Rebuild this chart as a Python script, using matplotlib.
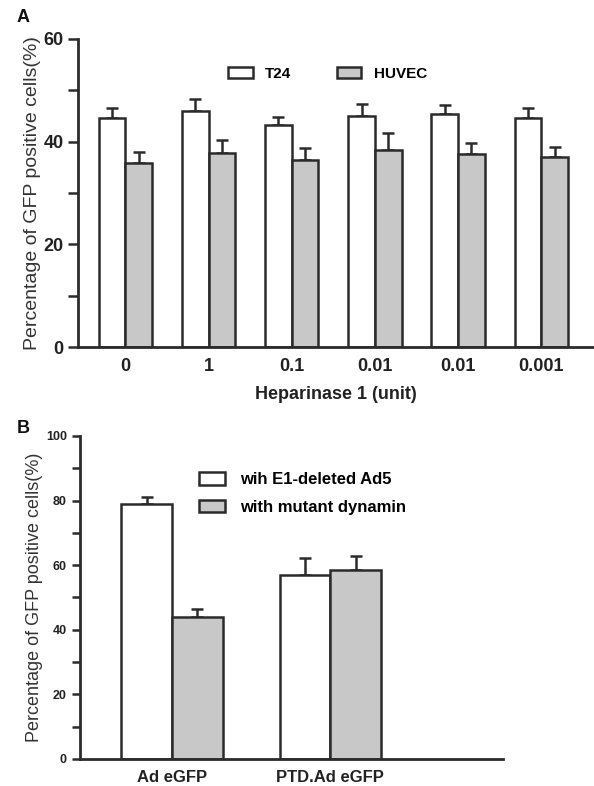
import numpy as np
import matplotlib
matplotlib.use('Agg')
import matplotlib.pyplot as plt
from matplotlib.ticker import MultipleLocator

plt.rcParams['font.family'] = ['Liberation Sans', 'DejaVu Sans']

# panel A data
doses = ['0', '1', '0.1', '0.01', '0.01', '0.001']
t24 = [44.6, 46.0, 43.3, 45.0, 45.4, 44.6]
t24_err = [1.9, 2.3, 1.5, 2.4, 1.8, 1.9]
huvec = [35.8, 37.8, 36.5, 38.4, 37.6, 37.0]
huvec_err = [2.2, 2.5, 2.3, 3.3, 2.2, 2.0]

# panel B data
vectors = ['Ad eGFP', 'PTD.Ad eGFP']
e1_deleted = [79.0, 57.0]
e1_err = [2.1, 5.2]
mutant = [44.0, 58.5]
mutant_err = [2.4, 4.3]

EDGE = '#2b2b2b'
GRAY = '#c8c8c8'
TXT = '#222222'
w = 0.32


def style_axes(ax):
    for s in ['top', 'right']:
        ax.spines[s].set_visible(False)
    for s in ['left', 'bottom']:
        ax.spines[s].set_linewidth(2.0)
        ax.spines[s].set_color(EDGE)
    ax.tick_params(axis='y', which='major', length=7, width=1.8, color=EDGE)
    ax.tick_params(axis='y', which='minor', length=7, width=1.8, color=EDGE)
    ax.tick_params(axis='x', length=0, pad=8)


def bars(ax, x, vals, errs, color, label):
    ax.bar(x, vals, w, color=color, edgecolor=EDGE, linewidth=1.8, label=label, zorder=2)
    ax.errorbar(x, vals, yerr=[np.zeros(len(vals)), errs], fmt='none',
                ecolor=EDGE, elinewidth=1.8, capsize=4, capthick=1.8, zorder=1)


fig = plt.figure(figsize=(5.94, 7.86), dpi=100)

# ---- panel A
axA = fig.add_axes([0.1313, 0.5585, 0.8667, 0.392])
xa = np.arange(len(doses))
bars(axA, xa - w / 2, t24, t24_err, 'white', 'T24')
bars(axA, xa + w / 2, huvec, huvec_err, GRAY, 'HUVEC')
axA.set_xlim(-0.57, 5.62)
axA.set_ylim(0, 60)
axA.yaxis.set_major_locator(MultipleLocator(20))
axA.yaxis.set_minor_locator(MultipleLocator(10))
style_axes(axA)
axA.set_xticks(xa)
axA.set_xticklabels(doses, fontsize=13, fontweight='bold', color=TXT)
for lab in axA.get_yticklabels():
    lab.set_fontsize(13)
    lab.set_fontweight('bold')
    lab.set_color(TXT)
axA.set_ylabel('Percentage of GFP positive cells(%)', fontsize=14, color='#333333', labelpad=2)
axA.set_xlabel('Heparinase 1 (unit)', fontsize=13, fontweight='bold', color=TXT, labelpad=8)
axA.legend(loc='upper left', bbox_to_anchor=(0.265, 0.955), ncol=2, frameon=False,
           handlelength=1.6, handleheight=0.8, columnspacing=3.0, handletextpad=0.8,
           prop={'weight': 'bold', 'size': 11})
fig.text(0.028, 0.978, 'A', fontsize=13, fontweight='bold', color='#111111', va='center')

# ---- panel B
axB = fig.add_axes([0.1347, 0.0344, 0.712, 0.411])
xb = np.arange(len(vectors))
bars(axB, xb - w / 2, e1_deleted, e1_err, 'white', 'wih E1-deleted Ad5')
bars(axB, xb + w / 2, mutant, mutant_err, GRAY, 'with mutant dynamin')
axB.set_xlim(-0.58, 2.09)
axB.set_ylim(0, 100)
axB.yaxis.set_major_locator(MultipleLocator(20))
axB.yaxis.set_minor_locator(MultipleLocator(10))
style_axes(axB)
axB.tick_params(axis='y', which='both', length=6, width=1.8)
axB.set_xticks(xb)
axB.set_xticklabels(vectors, fontsize=12, fontweight='bold', color=TXT)
for lab in axB.get_yticklabels():
    lab.set_fontsize(9)
    lab.set_fontweight('bold')
    lab.set_color(TXT)
axB.set_ylabel('Percentage of GFP positive cells(%)', fontsize=13, color='#333333', labelpad=2)
axB.legend(loc='upper left', bbox_to_anchor=(0.245, 0.935), ncol=1, frameon=False,
           handlelength=1.6, handleheight=0.8, handletextpad=0.9, labelspacing=0.75,
           prop={'weight': 'bold', 'size': 12})
fig.text(0.028, 0.455, 'B', fontsize=13, fontweight='bold', color='#111111', va='center')

fig.savefig('out.png', dpi=100)
